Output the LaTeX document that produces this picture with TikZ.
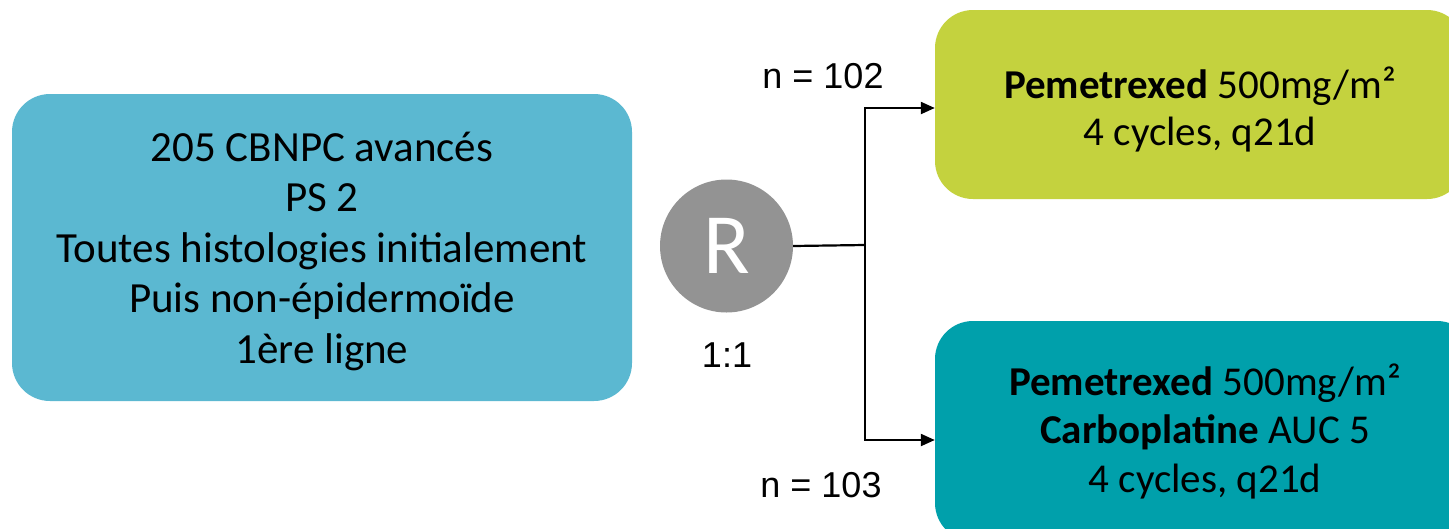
\documentclass[tikz,border=0pt]{standalone}
\usepackage{fontspec}
\setmainfont{Carlito}
\newfontfamily\labelfont{Liberation Sans}
\usetikzlibrary{arrows.meta}
\definecolor{popblue}{HTML}{5BB8D1}
\definecolor{armgreen}{HTML}{C4D23E}
\definecolor{armteal}{HTML}{00A0AB}
\definecolor{randgrey}{HTML}{939393}
\tikzset{
  box/.style={rounded corners=38pt, minimum width=#1, align=center, inner sep=0pt},
  txt/.style={align=center, inner sep=0pt},
  link/.style={line width=2.2pt, draw=black},
  arm/.style={link, -{Triangle[length=14pt,width=12pt]}},
  lbl/.style={font=\labelfont\fontsize{36}{40}\selectfont}
}
\begin{document}
\begin{tikzpicture}[x=1pt,y=-1pt]
  \useasboundingbox (0,0) rectangle (1449,528);
  \clip (0,0) rectangle (1449,528);

  % population box
  \node[box=620pt, minimum height=307pt, fill=popblue] (pop) at (322,247.5) {};
  \node[txt, font=\fontsize{43}{50.5}\selectfont] (popText) at ([yshift=-4pt]pop.center)
    {205 CBNPC avancés\\PS 2\\Toutes histologies initialement\\Puis non-épidermoïde\\1ère ligne};

  % randomisation
  \node[circle, fill=randgrey, minimum size=133pt, inner sep=0pt,
        text=white, font=\fontsize{86}{88}\selectfont] (R) at (726.5,246) {R};
  \node[lbl] (ratio) at (727,355) {1:1};

  % treatment arms
  \node[box=530pt, minimum height=189pt, fill=armgreen] (armA) at (1200,104.5) {};
  \node[txt, font=\fontsize{41}{47}\selectfont] (armAText) at ([yshift=-5pt]armA.center)
    {\textbf{Pemetrexed} 500mg/m²\\4 cycles, q21d};
  \node[box=540pt, minimum height=220pt, fill=armteal] (armB) at (1205,431) {};
  \node[txt, font=\fontsize{41}{48.5}\selectfont] (armBText) at (armB.center)
    {\textbf{Pemetrexed} 500mg/m²\\\textbf{Carboplatine} AUC 5\\4 cycles, q21d};

  % connectors
  \coordinate (split) at (865,245);
  \draw[link] (R.east) -- (split);
  \draw[arm] (split) |- (armA.west |- 0,108);
  \draw[arm] (split) |- (armB.west |- 0,440);

  \node[lbl] (nA) at (823,76) {n = 102};
  \node[lbl] (nB) at (821,485) {n = 103};
\end{tikzpicture}
\end{document}
